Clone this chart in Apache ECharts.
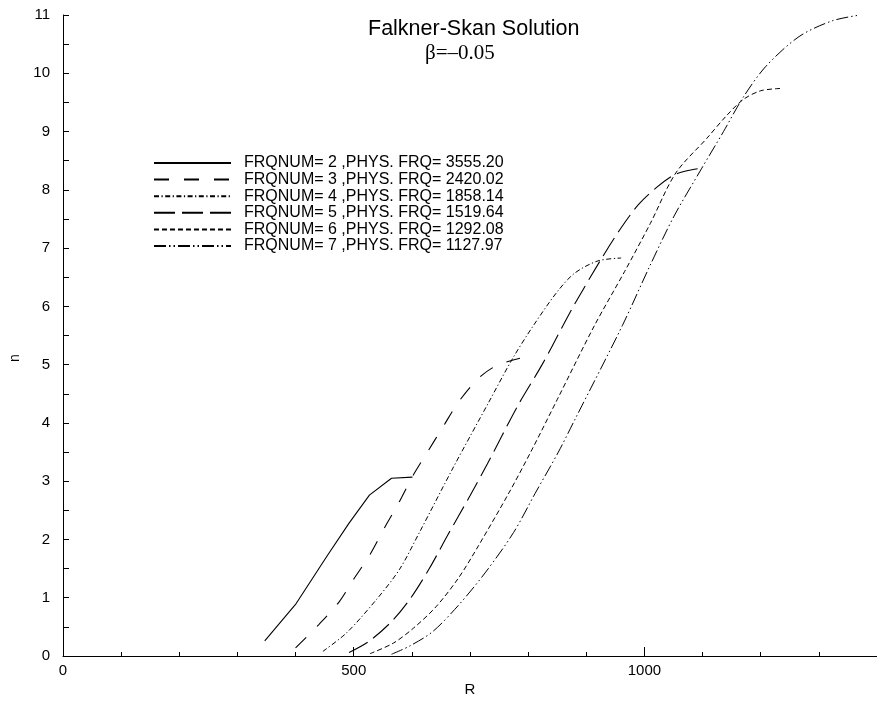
<!DOCTYPE html>
<html>
<head>
<meta charset="utf-8">
<script src="https://cdn.jsdelivr.net/npm/echarts@6/dist/echarts.min.js"></script>
<style>
html,body{margin:0;padding:0;background:#fff;}
#chart{width:877px;height:702px;}
</style>
</head>
<body>
<div id="chart"></div>
<script>
// ---- data ----
const titleText = 'Falkner-Skan Solution';
const subtitleText = 'β=–0.05';
const xName = 'R';
const yName = 'n';
const xTickLabels = [0, 500, 1000];
const yTickLabels = [0,1,2,3,4,5,6,7,8,9,10,11];

const seriesNames = [
  'FRQNUM= 2 ,PHYS. FRQ= 3555.20',
  'FRQNUM= 3 ,PHYS. FRQ= 2420.02',
  'FRQNUM= 4 ,PHYS. FRQ= 1858.14',
  'FRQNUM= 5 ,PHYS. FRQ= 1519.64',
  'FRQNUM= 6 ,PHYS. FRQ= 1292.08',
  'FRQNUM= 7 ,PHYS. FRQ= 1127.97'
];

const r2 = [347, 401, 455, 492, 527, 565, 601];
const n2 = [0.26, 0.9, 1.73, 2.28, 2.76, 3.05, 3.07];

const r3 = [400, 440, 475, 500, 528, 553, 577, 601, 628, 654, 681, 715, 745, 786];
const n3 = [0.14, 0.54, 0.93, 1.32, 1.74, 2.2, 2.62, 3.08, 3.52, 3.94, 4.37, 4.77, 4.98, 5.11];

const r4 = [447, 488, 540, 579, 613, 672, 732, 773, 809, 850, 880, 920, 960];
const n4 = [0.08, 0.4, 0.98, 1.49, 2.12, 3.25, 4.35, 5.1, 5.67, 6.25, 6.57, 6.78, 6.83];

const r5 = [492, 526, 565, 597, 630, 662, 700, 730, 783, 824, 860, 880, 928, 960, 990, 1022, 1050, 1075, 1098];
const n5 = [0.06, 0.25, 0.59, 0.98, 1.5, 2.08, 2.75, 3.3, 4.31, 5.0, 5.67, 6.04, 6.85, 7.35, 7.75, 8.05, 8.25, 8.33, 8.37];

const r6 = [528, 568, 603, 642, 681, 715, 767, 807, 850, 914, 966, 1010, 1054, 1107, 1141, 1170, 1200, 1235];
const n6 = [0.04, 0.22, 0.48, 0.85, 1.35, 1.9, 2.8, 3.55, 4.4, 5.67, 6.6, 7.42, 8.29, 8.88, 9.27, 9.55, 9.7, 9.74];

const r7 = [565, 596, 636, 681, 727, 775, 812, 852, 880, 962, 1011, 1051, 1098, 1136, 1170, 1209, 1266, 1323, 1371];
const n7 = [0.03, 0.17, 0.42, 0.88, 1.44, 2.12, 2.79, 3.5, 4.05, 5.67, 6.73, 7.55, 8.36, 9.0, 9.59, 10.12, 10.63, 10.9, 11.0];

// ---- build ----
const pair = (r, n) => r.map((v, i) => [v, n[i]]);
const curves = [pair(r2,n2), pair(r3,n3), pair(r4,n4), pair(r5,n5), pair(r6,n6), pair(r7,n7)];
const dashes = ['solid', [15, 15], [5, 2.5, 1.2, 2.5], [21, 7], [5, 3], [12, 3, 1.5, 3, 1.5, 3]];
const widths = [1.1, 1.1, 1, 1.1, 1, 1];
const smooths = [0, 0.3, 0.3, 0.3, 0.3, 0.3];

const FONT = '"Liberation Sans", Arial, sans-serif';

const chart = echarts.init(document.getElementById('chart'), null, {renderer: 'canvas'});
chart.setOption({
  backgroundColor: '#fff',
  animation: false,
  title: [
    {text: titleText, left: 368, top: 18, padding: 0, textStyle: {fontFamily: FONT, fontSize: 21.5, fontWeight: 'normal', color: '#000'}},
    {text: subtitleText, left: 425, top: 43, padding: 0, textStyle: {fontFamily: '"Liberation Serif", "Times New Roman", serif', fontSize: 21, fontWeight: 'normal', color: '#000'}}
  ],
  legend: {
    orient: 'vertical',
    left: 153,
    top: 155,
    padding: 0,
    itemWidth: 77,
    itemHeight: 10,
    itemGap: 0.6,
    itemStyle: {opacity: 0},
    data: seriesNames,
    textStyle: {fontFamily: FONT, fontSize: 16, color: '#000', lineHeight: 16, padding: [0, 0, 0, 8]},
    selectedMode: false
  },
  grid: {left: 63, top: 15, width: 822, height: 650, containLabel: false},
  xAxis: [
    {
      type: 'value', min: 0, max: 1400, interval: 100,
      axisLine: {show: true, lineStyle: {color: '#000', width: 1}},
      axisTick: {show: true, inside: true, length: 4, lineStyle: {color: '#000'}},
      axisLabel: {show: false},
      splitLine: {show: false},
      name: xName, nameLocation: 'middle', nameGap: 26,
      nameTextStyle: {fontFamily: FONT, fontSize: 15, color: '#000'}
    },
    {
      type: 'value', min: 0, max: 1400, interval: 500, position: 'bottom',
      axisLine: {show: false},
      axisTick: {show: true, inside: true, length: 9, lineStyle: {color: '#000'}},
      axisLabel: {show: true, margin: 7, fontFamily: FONT, fontSize: 15, color: '#000', showMaxLabel: false,
        formatter: v => (xTickLabels.indexOf(v) >= 0 ? String(v) : '')},
      splitLine: {show: false}
    }
  ],
  yAxis: {
    type: 'value', min: 0, max: 11, interval: 1,
    axisLine: {show: true, lineStyle: {color: '#000', width: 1}},
    axisTick: {show: true, inside: true, length: 6, lineStyle: {color: '#000'}},
    minorTick: {show: true, splitNumber: 2, length: 6, lineStyle: {color: '#000'}},
    axisLabel: {margin: 13, fontFamily: FONT, fontSize: 15, color: '#000',
      formatter: v => (yTickLabels.indexOf(v) >= 0 ? String(v) : '')},
    splitLine: {show: false}
  },
  graphic: [
    {type: 'text', x: 15, y: 358, rotation: Math.PI / 2,
      style: {text: yName, fontFamily: FONT, fontSize: 14, fill: '#000', textAlign: 'center', textVerticalAlign: 'middle'}}
  ],
  series: curves.map((d, i) => ({
    name: seriesNames[i],
    type: 'line',
    xAxisIndex: 0,
    data: d,
    symbol: 'none',
    smooth: smooths[i],
    lineStyle: {color: '#000', width: widths[i], type: dashes[i]},
    itemStyle: {color: '#000'},
    clip: true
  }))
});
</script>
</body>
</html>
